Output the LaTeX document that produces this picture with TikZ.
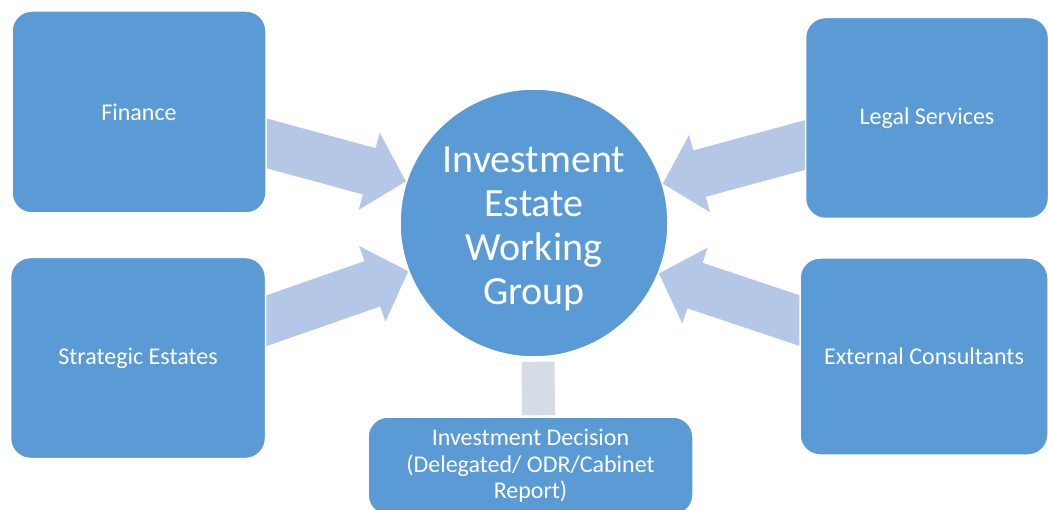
\documentclass[tikz,border=0pt]{standalone}
\usepackage{fontspec}
\setmainfont{Carlito}
\usetikzlibrary{calc, positioning, backgrounds}

\definecolor{boxblue}{HTML}{5B9BD5}
\definecolor{arrowblue}{HTML}{B4C7E7}
\definecolor{linkgrey}{HTML}{D6DCE5}

% fat arrow from #1 to #2
\newcommand{\feedarrow}[2]{
\coordinate (hb) at ($(#2)!38pt!(#1)$);
\fill[arrowblue] ($(#1)!24pt!90:(#2)$) -- ($(hb)!24pt!90:(#2)$) -- ($(hb)!40pt!90:(#2)$) -- (#2)
  -- ($(hb)!40pt!-90:(#2)$) -- ($(hb)!24pt!-90:(#2)$) -- ($(#1)!24pt!-90:(#2)$) -- cycle;
}

\begin{document}
\begin{tikzpicture}[x=1pt, y=-1pt,
  unit/.style={rectangle, rounded corners=20pt, fill=boxblue, draw=white, line width=1.5pt,
    text=white, align=center, inner sep=0pt, font=\fontsize{24}{26.5}\selectfont},
  hub/.style={circle, fill=boxblue, draw=white, line width=1.5pt, text=white, align=center,
    minimum size=268pt, inner sep=0pt, font=\fontsize{40}{44}\selectfont}]
\useasboundingbox (0,0) rectangle (1048,510);

\node[unit, minimum width=254pt, minimum height=202pt] (finance) at (139,112) {Finance};
\node[unit, minimum width=255pt, minimum height=201pt] (estates) at (138,358) {Strategic Estates};
\node[unit, minimum width=243pt, minimum height=201pt] (legal) at (927,118) {Legal Services};
\node[unit, minimum width=248pt, minimum height=197pt] (external) at (924,356.5) {External Consultants};
\node[unit, minimum width=325pt, minimum height=98pt] (decision) at (530.5,466)
  {Investment Decision\\(Delegated/ ODR/Cabinet\\Report)};

\node[hub] (group) at (534,223) {\rule{0pt}{38pt}Investment\\Estate\\Working\\Group};

\coordinate (fin-out) at ($(finance.east)+(-16,27)$);
\coordinate (est-out) at ($(estates.east)+(-15,-32)$);
\coordinate (leg-out) at ($(legal.west)+(15,23)$);
\coordinate (ext-out) at ($(external.west)+(15,-31)$);

\begin{scope}[on background layer]
\fill[white] (0,0) rectangle (1048,510);
\feedarrow{fin-out}{group.162}
\feedarrow{est-out}{group.201}
\feedarrow{leg-out}{group.17}
\feedarrow{ext-out}{group.338}
\draw[linkgrey, line width=33pt] ($(group.south)+(4,4)$) -- ($(decision.north)+(8,-1)$);
\end{scope}

\end{tikzpicture}
\end{document}
